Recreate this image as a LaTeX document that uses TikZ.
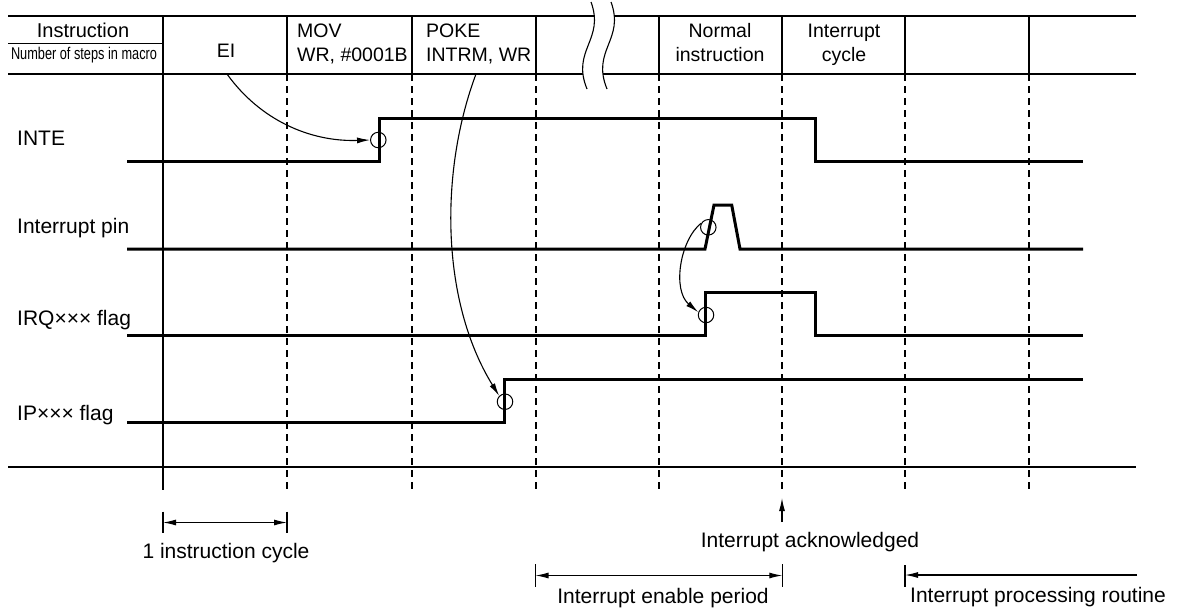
\documentclass[tikz,border=0pt]{standalone}
\usepackage{fontspec}
\setmainfont{Liberation Sans}
\usetikzlibrary{arrows.meta}
\begin{document}
\begin{tikzpicture}[x=1pt,y=-1pt,
  sig/.style={line width=3pt, line join=miter},
  thinln/.style={line width=1.1pt},
  dsh/.style={line width=1.1pt, dash pattern=on 7pt off 5pt},
  lbl/.style={font=\fontsize{21}{24}\selectfont, inner sep=0pt},
  hdr/.style={font=\fontsize{19.5}{23}\selectfont, inner sep=0pt},
  ring/.style={circle, draw, line width=1pt, minimum size=15.5pt, inner sep=0pt},
  tip/.style={-{Latex[length=13pt,width=6pt]}, line width=1.1pt},
  dim/.style={{Latex[length=13pt,width=6pt]}-{Latex[length=13pt,width=6pt]}, line width=1.1pt}
]
\useasboundingbox (0,0) rectangle (1177,614);

% ---- table frame ----
\draw[line width=1.8pt] (8,16) -- (1136,16);
\draw[line width=0.9pt] (8,43.3) -- (163,43.3);
\draw[thinln] (8,74) -- (1136,74);
\draw[thinln] (8,467) -- (1136,467);
\draw[thinln] (163,16) -- (163,490);
\foreach \x in {287,412,536,659,782,905,1029}{
  \draw[thinln] (\x,16) -- (\x,74);
  \draw[dsh] (\x,74) -- (\x,490);
}

% ---- break marks ----
\fill[white] (591,2) .. controls (605,40) and (571,50) .. (587,89) -- (607,89)
   .. controls (591,50) and (625,40) .. (611,2) -- cycle;
\draw[thinln] (591,2) .. controls (605,40) and (571,50) .. (587,89);
\draw[thinln] (611,2) .. controls (625,40) and (591,50) .. (607,89);

% ---- header texts ----
\node[hdr, anchor=base, font=\fontsize{20}{23}\selectfont] (hInstr) at (83,37.5) {Instruction};
\node[hdr, anchor=base, font=\fontsize{17}{20}\selectfont] (hSteps) at (84,59.5) {\scalebox{0.75}[1]{Number of steps in macro}};
\node[hdr, anchor=base] (tEI) at (226,57.5) {EI};
\node[hdr, anchor=base west] (tMOVa) at (297,37.5) {MOV};
\node[hdr, anchor=base west] (tMOVb) at (297,61) {WR, \#0001B};
\node[hdr, anchor=base west] (tPOKEa) at (426,37.5) {POKE};
\node[hdr, anchor=base west] (tPOKEb) at (426,61) {INTRM, WR};
\node[hdr, anchor=base] (tNorma) at (720,37.5) {Normal};
\node[hdr, anchor=base] (tNormb) at (720,61) {instruction};
\node[hdr, anchor=base] (tIntca) at (844,37.5) {Interrupt};
\node[hdr, anchor=base] (tIntcb) at (844,61) {cycle};

% ---- signal labels ----
\node[lbl, anchor=base west] (lINTE) at (17,145) {INTE};
\node[lbl, anchor=base west] (lPin) at (17,233) {Interrupt pin};
\node[lbl, anchor=base west] (lIRQ) at (17,325) {IRQ×××\ flag};
\node[lbl, anchor=base west] (lIP) at (17,420) {IP×××\ flag};

% ---- signals ----
\draw[sig] (127,161.7) -- (379,161.7) -- (379,118.3) -- (815,118.3) -- (815,161.7) -- (1083,161.7);
\draw[sig] (127,249) -- (705,249) -- (714,205) -- (731.7,205) -- (740,249) -- (1083,249);
\draw[sig] (127,335) -- (705.7,335) -- (705.7,292.3) -- (815,292.3) -- (815,335) -- (1083,335);
\draw[sig] (127,422.7) -- (504.3,422.7) -- (504.3,379.3) -- (1083,379.3);

% ---- circles ----
\node[ring] (c1) at (378.3,140) {};
\node[ring] (c2) at (708.3,227.3) {};
\node[ring] (c3) at (706,315) {};
\node[ring] (c4) at (505,401.7) {};

% ---- cause arrows ----
\coordinate (eiA) at (227,74);
\coordinate (pokeA) at (476,74);
\draw[tip] (eiA) .. controls (260,120) and (310,142) .. (c1.west);
\draw[tip] (pokeA) .. controls (440,170) and (440,300) .. (c4.135);
\draw[tip] (c2.150) .. controls (680,240) and (672,290) .. (c3.160);

% ---- bottom annotations ----
\coordinate (cycA) at (163,522.5);
\coordinate (cycB) at (287,522.5);
\draw[thinln] (163,511.7) -- (163,532.7);
\draw[thinln] (287,511.7) -- (287,532.7);
\draw[dim] (cycA) -- (cycB);
\node[lbl, anchor=base] (tCyc) at (226,558.5) {1 instruction cycle};

\coordinate (ackA) at (782,522);
\coordinate (ackB) at (782,498);
\draw[tip] (ackA) -- (ackB);
\node[lbl, anchor=base] (tAck) at (810,547) {Interrupt acknowledged};

\coordinate (enA) at (535.5,575.5);
\coordinate (enB) at (782.3,575.5);
\draw[thinln] (535.5,564) -- (535.5,587);
\draw[thinln] (782.3,564) -- (782.3,587);
\draw[dim] (enA) -- (enB);
\node[lbl, anchor=base] (tEn) at (663,603.5) {Interrupt enable period};

\coordinate (prA) at (1137,575);
\coordinate (prB) at (905,575);
\draw[thinln] (905,565) -- (905,587);
\draw[tip] (prA) -- (prB);
\node[lbl, anchor=base west] (tPr) at (910,602) {Interrupt processing routine};
\end{tikzpicture}
\end{document}
